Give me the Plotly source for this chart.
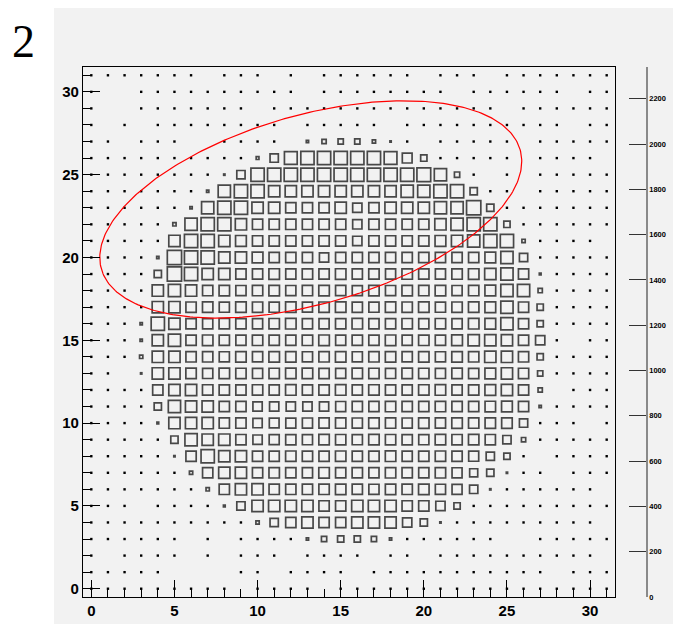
import numpy as np
import plotly.graph_objects as go

# ---------------- data ----------------
x_bins = list(range(32))
y_bins = list(range(32))
x_ticks = [0, 5, 10, 15, 20, 25, 30]
y_ticks = [0, 5, 10, 15, 20, 25, 30]
z_ticks = [0, 200, 400, 600, 800, 1000, 1200, 1400, 1600, 1800, 2000, 2200]
z_axis_max = 2340
z_box_max = 2300
panel_label = "2"

# bin contents, one list per y bin (i = 0..31 along x)
row_31 = [18,22,15,27,20,12,24,0,19,26,14,0,21,0,17,23,25,16,28,13,0,22,18,15,0,20,26,12,19,24,17,21]
row_30 = [25,0,0,16,22,19,14,27,21,13,24,18,20,0,26,15,23,17,12,28,19,22,0,16,25,21,14,27,18,0,23,20]
row_29 = [20,0,0,24,17,26,21,15,23,19,0,28,14,22,18,25,13,27,20,16,24,21,19,26,15,0,22,17,28,14,23,19]
row_28 = [23,0,19,0,25,14,22,18,27,16,21,24,0,20,17,26,23,15,0,22,19,28,14,24,21,18,26,20,17,0,25,22]
row_27 = [17,24,0,21,19,23,0,0,20,25,16,22,0,134,300,409,409,209,75,21,0,24,18,26,15,22,0,19,27,23,16,20]
row_26 = [22,18,26,15,23,20,17,24,19,21,169,835,1755,1878,1878,1878,1878,1878,1755,1104,534,23,17,25,20,18,0,24,21,16,26,0]
row_25 = [19,25,17,23,14,27,21,18,75,835,1878,1878,1878,1878,1878,1878,1878,1878,1878,1878,2005,1636,409,22,0,19,0,25,17,23,20,24]
row_24 = [26,15,22,19,24,16,23,134,1636,1878,1878,1411,1411,1411,1411,1411,1411,1411,1411,1636,1636,1878,1878,676,20,24,0,18,23,26,15,21]
row_23 = [14,23,20,26,17,22,134,1636,1878,1878,1411,1411,1202,1202,1202,1411,1010,1202,1411,1411,1411,1636,1636,2137,676,21,18,25,16,22,19,27]
row_22 = [21,17,24,16,28,209,1636,1878,1878,1411,1202,1202,1202,1202,1202,1202,1010,1202,1202,1202,1202,1411,1636,1878,1878,534,24,17,22,19,26,20]
row_21 = [24,19,16,22,40,1411,1878,1878,1411,1304,1202,1202,1202,1202,1202,1202,1010,1202,1202,1202,1202,1304,1411,1636,1878,1878,209,23,18,25,17,0]
row_20 = [18,26,21,24,134,2137,1878,1878,1411,1411,1300,1202,1202,1202,1010,1202,1202,1202,1202,1202,1202,1202,1202,1202,1300,1636,835,20,24,16,22,19]
row_19 = [22,17,25,19,676,2137,1878,1411,1411,1202,1202,1260,1180,1230,1202,1250,1190,1220,1170,1240,1210,1180,1230,1260,1411,1636,1202,102,23,18,25,21]
row_18 = [16,24,19,23,1411,1636,1411,1202,1240,1190,1220,1260,1180,1210,1250,1200,1170,1230,1190,1240,1210,1260,1180,1220,1300,1636,1636,300,21,26,17,24]
row_17 = [25,18,22,45,1411,1411,1202,1230,1180,1250,1210,1190,1240,1170,1220,1260,1200,1180,1230,1210,1250,1190,1220,1240,1300,1636,1202,534,19,23,20,16]
row_16 = [19,23,17,134,1878,1411,1202,1190,1240,1210,1180,1230,1260,1200,1170,1220,1250,1190,1210,1240,1180,1230,1200,1260,1300,1636,1202,534,22,17,24,21]
row_15 = [23,16,26,134,1411,1636,1202,1250,1200,1180,1230,1210,1190,1240,1260,1170,1220,1200,1250,1180,1230,1210,1300,1411,1411,1411,1202,1010,18,0,22,19]
row_14 = [17,22,19,209,1411,1411,1202,1210,1180,1240,1200,1260,1230,1190,1220,1250,1180,1210,1240,1200,1230,1190,1260,1220,1411,1411,1202,534,24,21,16,25]
row_13 = [24,19,0,75,1411,1411,1230,1190,1250,1210,1180,1220,1240,1260,1200,1170,1230,1210,1190,1250,1220,1180,1240,1200,1300,1411,1202,409,20,23,18,22]
row_12 = [21,25,18,24,1202,1411,1411,1240,1210,1190,1230,1180,1250,1200,1220,1260,1190,1240,1210,1180,1230,1250,1200,1220,1300,1411,1202,300,0,19,24,17]
row_11 = [18,20,23,22,676,1636,1411,1411,1202,1202,1010,1010,1010,1010,1010,1150,1200,1180,1230,1210,1190,1240,1220,1200,1250,1304,1202,134,25,17,21,23]
row_10 = [22,17,24,19,102,1411,1411,1411,1202,1202,1010,1100,1150,1180,1200,1220,1190,1240,1210,1180,1230,1200,1250,1210,1240,1260,835,21,18,24,0,20]
row_09 = [19,24,16,23,21,676,1636,1411,1411,1202,1010,1150,1200,1180,1230,1210,1190,1240,1220,1200,1180,1250,1210,1230,1202,835,300,24,19,22,17,25]
row_08 = [24,18,22,20,17,75,1202,1878,1411,1411,1202,1180,1230,1210,1190,1240,1200,1220,1250,1180,1210,1230,1200,1150,835,534,22,0,20,17,23,19]
row_07 = [17,23,19,25,22,18,209,1202,1411,1411,1202,1230,1210,1190,1250,1200,1220,1180,1240,1210,1190,1230,1150,800,676,75,21,24,0,18,22,16]
row_06 = [21,16,24,18,23,20,19,209,1202,1411,1411,1202,1202,1202,1220,1240,1200,1180,1230,1210,1250,1190,1150,835,75,23,18,21,25,19,16,0]
row_05 = [18,22,17,0,24,19,21,23,102,835,1411,1411,1411,1411,1202,1202,1411,1411,1411,1202,1202,1010,534,40,20,24,17,22,19,23,18,21]
row_04 = [20,17,23,19,22,18,24,16,21,25,209,835,1202,1411,1202,1202,1411,1411,1411,1010,676,75,22,18,24,20,17,23,19,25,21,0]
row_03 = [23,19,21,21,17,24,0,22,0,18,25,20,16,134,409,534,534,409,134,22,19,24,17,21,18,0,0,23,20,25,22,19]
row_02 = [19,0,22,18,24,21,0,17,0,23,20,25,0,19,22,16,24,0,21,18,0,23,17,25,20,22,18,24,19,21,17,0]
row_01 = [22,18,25,20,17,0,0,0,0,21,24,0,19,22,17,25,0,20,23,18,24,21,19,25,17,22,20,23,0,19,24,21]
row_00 = [20,24,18,22,19,25,17,23,21,0,18,24,20,22,0,19,23,17,25,21,18,22,24,20,19,23,17,21,24,18,22,20]

counts = [row_00, row_01, row_02, row_03, row_04, row_05, row_06, row_07,
          row_08, row_09, row_10, row_11, row_12, row_13, row_14, row_15,
          row_16, row_17, row_18, row_19, row_20, row_21, row_22, row_23,
          row_24, row_25, row_26, row_27, row_28, row_29, row_30, row_31]

# red ellipse drawn over the map (centre, semi-axes, rotation)
ellipse_center = (13.2, 22.9)
ellipse_axes = (13.1, 5.7)
ellipse_angle_deg = 16.0

# ---------------- layout geometry ----------------
W, H = 673, 624
ML, MR, MT, MB = 83, 26, 67, 27
plot_w = W - ML - MR
plot_h = H - MT - MB
frame_right = 615
x_dom_end = (frame_right - ML) / plot_w
XR = [-0.5, 31.5]
YR = [-0.5, 31.5]
cell_px = min((frame_right - ML) / (XR[1] - XR[0]), plot_h / (YR[1] - YR[0]))
LW = 1.7

bx, by, bs, bz = [], [], [], []
dx, dy, dz = [], [], []
for j, row in zip(y_bins, counts):
    for i, z in zip(x_bins, row):
        if z <= 0:
            continue
        s = cell_px * np.sqrt(z / z_box_max)
        if s < 2.6:
            dx.append(i); dy.append(j); dz.append(z)
        else:
            bx.append(i); by.append(j); bs.append(max(s - LW, 1.0)); bz.append(z)

fig = go.Figure()
fig.add_trace(go.Scatter(
    x=bx, y=by, mode="markers", customdata=bz,
    marker=dict(symbol="square-open", size=bs, color="#000000",
                line=dict(width=LW, color="#000000")),
    hovertemplate="x=%{x} y=%{y} n=%{customdata}<extra></extra>",
    showlegend=False))
fig.add_trace(go.Scatter(
    x=dx, y=dy, mode="markers", customdata=dz,
    marker=dict(symbol="square", size=2.4, color="#000000", line=dict(width=0)),
    hovertemplate="x=%{x} y=%{y} n=%{customdata}<extra></extra>",
    showlegend=False))

t = np.linspace(0, 2 * np.pi, 361)
th = np.deg2rad(ellipse_angle_deg)
a, b = ellipse_axes
ex = ellipse_center[0] + a * np.cos(t) * np.cos(th) - b * np.sin(t) * np.sin(th)
ey = ellipse_center[1] + a * np.cos(t) * np.sin(th) + b * np.sin(t) * np.cos(th)
fig.add_trace(go.Scatter(x=ex, y=ey, mode="lines",
                         line=dict(color="#ff0000", width=1.2),
                         hoverinfo="skip", showlegend=False))
# carrier for the right-hand scale axis
fig.add_trace(go.Scatter(x=[None], y=[None], yaxis="y2", mode="markers",
                         showlegend=False, hoverinfo="skip"))

tick_font = dict(family="Liberation Sans, Arial, sans-serif", size=15,
                 color="black", weight="bold")
GRAY = "#f2f2f2"

fig.update_layout(
    width=W, height=H, autosize=False,
    margin=dict(l=ML, r=MR, t=MT, b=MB, pad=0, autoexpand=False),
    paper_bgcolor=GRAY, plot_bgcolor=GRAY,
    xaxis=dict(domain=[0, x_dom_end], range=XR, showgrid=False, zeroline=False,
               automargin=False,
               showline=True, mirror=True, linecolor="black", linewidth=1.3,
               tickmode="array", tickvals=x_ticks, ticks="inside", ticklen=17,
               tickwidth=1, tickcolor="black", tickfont=tick_font,
               minor=dict(tickmode="linear", tick0=0, dtick=1, ticks="inside",
                          ticklen=8, tickwidth=1, tickcolor="black", showgrid=False)),
    yaxis=dict(range=YR, showgrid=False, zeroline=False, automargin=False,
               showline=True, mirror=True, linecolor="black", linewidth=1.3,
               tickmode="array", tickvals=y_ticks, ticks="inside", ticklen=17,
               tickwidth=1, tickcolor="black", tickfont=tick_font,
               minor=dict(tickmode="linear", tick0=0, dtick=1, ticks="inside",
                          ticklen=8, tickwidth=1, tickcolor="black", showgrid=False)),
    yaxis2=dict(overlaying="y", anchor="free", position=1.0, side="right",
                automargin=False,
                range=[0, z_axis_max], showgrid=False, zeroline=False,
                showline=True, linecolor="#8a8a8a", linewidth=1.5,
                tickmode="array", tickvals=z_ticks, ticks="inside", ticklen=17,
                tickwidth=1.2, tickcolor="#333333",
                tickfont=dict(family="Liberation Sans, Arial, sans-serif", size=7.5,
                              color="black", weight="bold")),
    showlegend=False,
)

# white page outside the gray canvas
def px_to_paper_x(px):
    return (px - ML) / plot_w

def px_to_paper_y(py):
    return (H - MB - py) / plot_h

fig.add_shape(type="rect", xref="paper", yref="paper", layer="below",
              x0=px_to_paper_x(0), x1=px_to_paper_x(54),
              y0=px_to_paper_y(H), y1=px_to_paper_y(0),
              fillcolor="white", line=dict(width=0))
fig.add_shape(type="rect", xref="paper", yref="paper", layer="below",
              x0=px_to_paper_x(0), x1=px_to_paper_x(W),
              y0=px_to_paper_y(8), y1=px_to_paper_y(0),
              fillcolor="white", line=dict(width=0))

fig.add_annotation(text=panel_label, xref="paper", yref="paper",
                   x=px_to_paper_x(23), y=px_to_paper_y(42),
                   xanchor="center", yanchor="middle", showarrow=False,
                   font=dict(family="Liberation Serif, Times New Roman, serif",
                             size=46, color="black"))

fig.write_html("out.html")
